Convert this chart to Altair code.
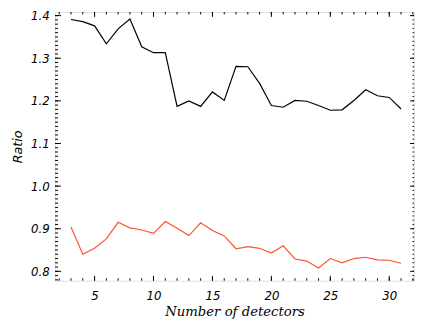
import altair as alt
import pandas as pd

detectors = list(range(3, 32))
black_ratio = [1.391, 1.386, 1.376, 1.334, 1.369, 1.392, 1.327, 1.313, 1.313, 1.187,
               1.200, 1.187, 1.221, 1.201, 1.281, 1.280, 1.241, 1.189, 1.185, 1.201,
               1.199, 1.189, 1.178, 1.179, 1.201, 1.226, 1.212, 1.208, 1.181]
red_ratio = [0.904, 0.840, 0.854, 0.876, 0.915, 0.902, 0.897, 0.889, 0.917, 0.901,
             0.884, 0.914, 0.896, 0.883, 0.853, 0.858, 0.854, 0.843, 0.860, 0.829,
             0.824, 0.808, 0.830, 0.820, 0.830, 0.833, 0.827, 0.826, 0.819]

x_major = [5, 10, 15, 20, 25, 30]
x_minor = list(range(2, 33))
y_major = [0.8, 0.9, 1.0, 1.1, 1.2, 1.3, 1.4]
y_minor = [round(0.78 + 0.01 * i, 2) for i in range(63)]

W, H = 366, 274
FONT = "DejaVu Sans"

df = pd.DataFrame({
    "n": detectors * 2,
    "ratio": black_ratio + red_ratio,
    "series": ["A"] * len(detectors) + ["B"] * len(detectors),
})

xscale = alt.Scale(domain=[1.65, 32.1], nice=False, zero=False)
yscale = alt.Scale(domain=[0.778, 1.4085], nice=False, zero=False)

xaxis = alt.Axis(
    values=x_major, ticks=False, domain=False, grid=False,
    labelFont=FONT, labelFontStyle="italic", labelFontSize=12, labelColor="black",
    labelPadding=10, title="Number of detectors", titleFont="DejaVu Serif",
    titleFontStyle="italic", titleFontWeight="normal", titleFontSize=13.5,
    titleColor="black", titlePadding=3)
yaxis = alt.Axis(
    values=y_major, format=".1f", ticks=False, domain=False, grid=False,
    labelFont=FONT, labelFontStyle="italic", labelFontSize=12, labelColor="black",
    labelPadding=6, title="Ratio", titleFont=FONT, titleFontStyle="italic",
    titleFontWeight="normal", titleFontSize=13, titleColor="black", titlePadding=6)

lines = alt.Chart(df).mark_line(strokeWidth=1.2).encode(
    x=alt.X("n:Q", scale=xscale, axis=xaxis),
    y=alt.Y("ratio:Q", scale=yscale, axis=yaxis),
    color=alt.Color("series:N", scale=alt.Scale(domain=["A", "B"], range=["black", "#ff5030"]), legend=None),
)

xmaj = pd.DataFrame({"n": x_major})
xmin = pd.DataFrame({"n": x_minor})
ymaj = pd.DataFrame({"ratio": y_major})
ymin = pd.DataFrame({"ratio": y_minor})

def xticks(d, ln):
    b = alt.Chart(d).mark_rule(color="black", strokeWidth=1).encode(
        x=alt.X("n:Q", scale=xscale, axis=xaxis), y=alt.value(H), y2=alt.value(H - ln))
    t = alt.Chart(d).mark_rule(color="black", strokeWidth=1).encode(
        x=alt.X("n:Q", scale=xscale, axis=xaxis), y=alt.value(0), y2=alt.value(ln))
    return b + t

def yticks(d, ln, rln):
    l = alt.Chart(d).mark_rule(color="black", strokeWidth=1).encode(
        y=alt.Y("ratio:Q", scale=yscale, axis=yaxis), x=alt.value(0), x2=alt.value(ln))
    r = alt.Chart(d).mark_rule(color="black", strokeWidth=1).encode(
        y=alt.Y("ratio:Q", scale=yscale, axis=yaxis), x=alt.value(W), x2=alt.value(W - rln))
    return l + r

chart = alt.layer(
    lines, xticks(xmin, 2.5), xticks(xmaj, 5), yticks(ymin, 3, 1.5), yticks(ymaj, 6, 4)
).properties(
    width=W, height=H,
    autosize=alt.AutoSizeParams(type="none"),
    padding={"left": 48, "top": 1, "right": 1, "bottom": 38},
).configure_view(stroke="black", strokeWidth=1).configure(background="white")

chart.save("out.html", embed_options={"renderer": "svg", "actions": False})
